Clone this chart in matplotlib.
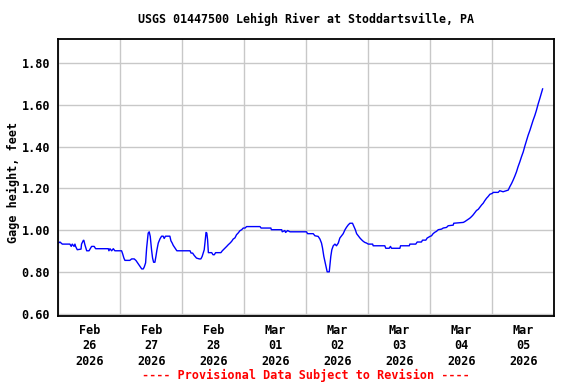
import pandas as pd
import numpy as np
import matplotlib
matplotlib.use("Agg")
import matplotlib.pyplot as plt
import matplotlib.dates as mdates

# 관측 시작 시각 기준 경과 시간(시간)과 수위(ft)
start_time = "2026-02-26 00:00"
hours = [0, 0.65, 1.55, 4.5, 5.0, 5.4, 6.1, 6.45, 6.7, 7.35, 8.8, 9.0, 9.7, 9.9,
         10.3, 11.0, 11.9, 12.5, 12.9, 13.9, 14.45, 19.35, 19.6, 20.0, 20.65,
         21.3, 21.9, 24.5, 24.9, 25.4, 25.8, 27.7, 28.4, 29.4, 30.1, 30.7, 31.6,
         32.3, 32.9, 33.3, 33.8, 34.2, 34.8, 35.2, 35.6, 36.1, 36.5, 36.9, 37.4,
         37.8, 38.2, 38.7, 39.4, 40.0, 40.6, 41.0, 41.5, 43.2, 43.6, 44.1, 44.5,
         45.2, 45.9, 51.0, 51.4, 52.0, 52.6, 53.5, 54.6, 55.2, 55.7, 56.5, 57.2,
         57.5, 57.8, 58.1, 59.4, 59.9, 60.4, 60.9, 62.95, 63.5, 64.5, 65.2, 65.8,
         66.5, 67.1, 67.7, 68.4, 69.0, 69.7, 70.3, 71.0, 71.6, 72.3, 72.9, 78.1,
         78.5, 82.3, 82.5, 86.5, 86.7, 87.7, 88.0, 88.8, 89.7, 96.1, 96.5, 98.7,
         99.35, 100.6, 101.3, 101.9, 102.3, 102.8, 103.35, 103.9, 104.1, 104.9,
         105.2, 105.5, 105.9, 106.45, 107.1, 107.7, 108.4, 109.0, 109.7, 110.3,
         111.0, 111.6, 112.25, 112.9, 113.9, 114.45, 115.0, 115.5, 116.1, 116.8,
         117.4, 118.1, 118.7, 119.35, 120.0, 121.7, 121.9, 126.4, 126.8, 128.1,
         128.6, 129.0, 132.25, 132.5, 135.9, 136.1, 138.4, 138.95, 140.6, 141.0,
         142.3, 142.8, 143.9, 144.5, 145.1, 145.8, 146.4, 147.1, 148.4, 149.0,
         150.3, 150.95, 152.9, 153.1, 156.8, 157.4, 158.0, 158.7, 159.3, 160.0,
         160.6, 161.3, 161.9, 162.6, 163.2, 163.9, 164.5, 165.1, 165.8, 166.4,
         167.1, 168.0, 168.4, 170.3, 170.9, 172.2, 173.5, 174.2, 174.8, 175.5,
         176.1, 176.75, 177.4, 178.0, 178.7, 179.3, 180.0, 180.6, 181.3, 181.9,
         182.6, 183.2, 183.8, 184.5, 185.1, 185.8, 186.4, 187.1, 187.5]
gage = [0.938, 0.943, 0.933, 0.933, 0.922, 0.933, 0.922, 0.933, 0.922, 0.906,
        0.909, 0.933, 0.951, 0.951, 0.930, 0.901, 0.901, 0.914, 0.922, 0.922,
        0.911, 0.911, 0.901, 0.911, 0.901, 0.911, 0.901, 0.901, 0.887, 0.866,
        0.855, 0.855, 0.862, 0.862, 0.854, 0.843, 0.827, 0.814, 0.814, 0.824,
        0.843, 0.914, 0.986, 0.992, 0.970, 0.906, 0.866, 0.846, 0.846, 0.874,
        0.906, 0.938, 0.959, 0.971, 0.971, 0.960, 0.971, 0.971, 0.949, 0.938,
        0.927, 0.914, 0.901, 0.901, 0.890, 0.890, 0.879, 0.866, 0.862, 0.862,
        0.874, 0.906, 0.989, 0.986, 0.954, 0.892, 0.892, 0.882, 0.882, 0.892,
        0.892, 0.901, 0.913, 0.922, 0.930, 0.938, 0.946, 0.957, 0.963, 0.978,
        0.987, 0.997, 1.002, 1.010, 1.010, 1.017, 1.017, 1.010, 1.010, 1.002,
        1.002, 0.992, 0.998, 0.989, 0.998, 0.992, 0.992, 0.983, 0.983,
        0.973, 0.970, 0.957, 0.938, 0.914, 0.874, 0.843, 0.814, 0.800, 0.800,
        0.835, 0.874, 0.906, 0.925, 0.933, 0.925, 0.938, 0.962, 0.973, 0.983,
        1.002, 1.014, 1.025, 1.033, 1.033, 1.017, 1.002, 0.983, 0.973, 0.962,
        0.954, 0.946, 0.941, 0.938, 0.933, 0.933, 0.925, 0.925, 0.913, 0.913,
        0.922, 0.913, 0.913, 0.925, 0.925, 0.933, 0.933, 0.943, 0.943, 0.952,
        0.952, 0.962, 0.970, 0.973, 0.983, 0.990, 0.994, 1.002, 1.005, 1.010,
        1.013, 1.021, 1.024, 1.033, 1.037, 1.041, 1.046, 1.052, 1.057, 1.065,
        1.073, 1.084, 1.094, 1.100, 1.110, 1.121, 1.129, 1.141, 1.153, 1.161,
        1.172, 1.176, 1.181, 1.181, 1.189, 1.184, 1.189, 1.192, 1.208, 1.224,
        1.240, 1.259, 1.280, 1.304, 1.328, 1.351, 1.375, 1.402, 1.431, 1.455,
        1.479, 1.502, 1.526, 1.550, 1.574, 1.606, 1.630, 1.661, 1.677]
y_ticks = [0.60, 0.80, 1.00, 1.20, 1.40, 1.60, 1.80]

times = pd.Timestamp(start_time) + pd.to_timedelta(hours, unit="h")

font = "DejaVu Sans Mono"
fig = plt.figure(figsize=(5.76, 3.84), dpi=100)
ax = fig.add_axes([0.1012, 0.178, 0.861, 0.7197])

ax.plot(times, gage, color="#0000ff", linewidth=1.0)

# x축: 자정에 격자선, 정오에 날짜 라벨
ax.set_xlim(pd.Timestamp("2026-02-26"), pd.Timestamp("2026-03-06"))
ax.xaxis.set_minor_locator(mdates.HourLocator(byhour=[0]))
ax.xaxis.set_major_locator(mdates.HourLocator(byhour=[12]))
ax.xaxis.set_major_formatter(mdates.DateFormatter("%b\n%d\n%Y"))
ax.grid(True, which="minor", axis="x", color="#c8c8c8", linewidth=1)
ax.set_ylim(0.59, 1.915)
ax.set_yticks(y_ticks)
ax.set_yticklabels([f"{v:.2f}" for v in y_ticks])
ax.grid(True, which="major", axis="y", color="#c8c8c8", linewidth=1)
ax.tick_params(which="both", length=0)
ax.tick_params(axis="x", pad=6)
ax.tick_params(axis="y", pad=6)
for lab in ax.get_xticklabels() + ax.get_yticklabels():
    lab.set_fontfamily(font)
    lab.set_fontweight("bold")
    lab.set_fontsize(8.5)
for lab in ax.get_xticklabels():
    lab.set_linespacing(1.25)
for s in ax.spines.values():
    s.set_linewidth(1.3)
    s.set_color("black")

ax.set_ylabel("Gage height, feet", fontfamily=font, fontweight="bold",
              fontsize=8.5)
ax.yaxis.set_label_coords(-0.078, 0.483)
fig.text(0.5304, 0.95, "USGS 01447500 Lehigh River at Stoddartsville, PA",
         ha="center", va="center", fontfamily=font, fontweight="bold", fontsize=8.4)
fig.text(0.5312, 0.023, "---- Provisional Data Subject to Revision ----",
         ha="center", va="center", fontfamily=font, fontweight="bold",
         fontsize=8.5, color="red")

fig.savefig("out.png", dpi=100)
